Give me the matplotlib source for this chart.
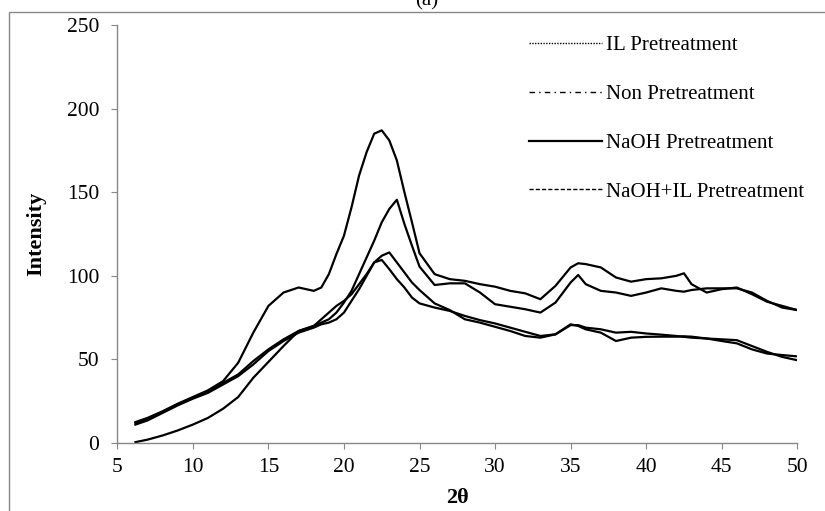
import matplotlib
matplotlib.use("Agg")
from matplotlib import pyplot as plt
from matplotlib.lines import Line2D
from matplotlib.patches import Rectangle

plt.rcParams['font.family'] = ['Liberation Serif', 'DejaVu Serif']

# 2theta sample points
two_theta = [6.2, 7, 8, 9, 10, 11, 12, 13, 14, 15, 16, 17, 18, 18.5, 19, 19.5,
             20, 20.5, 21, 21.5, 22, 22.5, 23, 23.5, 24, 24.5, 25, 26, 27, 28,
             29, 30, 31, 32, 33, 34, 35, 35.5, 36, 37, 38, 39, 40, 41, 42, 42.5,
             43, 44, 45, 46, 47, 48, 49, 50]

naoh = [12.5, 15, 19, 23.5, 27.5, 31.5, 37, 48, 66, 82, 90, 93, 91, 93, 101, 113,
        124, 141, 160, 174, 185, 187, 181, 169, 150, 132, 113.5, 101, 98, 97,
        95, 93.5, 91, 89.5, 86, 94, 105, 107.5, 107, 105, 99, 96.5, 98, 98.5, 100, 101.5,
        95, 90, 92, 93, 89, 84.5, 82, 79.5]

naoh_il = [0.5, 2, 4.5, 7.5, 11, 15, 20.5, 27.5, 39, 48.5, 58, 67, 70, 72, 74, 78,
           84, 91, 101, 111, 121, 132, 140, 145.5, 131, 118, 105.5, 94.5, 95.5, 95.5,
           90, 83, 81.5, 80, 78, 84, 96, 100.5, 95, 91, 90, 88, 90, 92.5, 91, 90.5,
           91.5, 92.5, 92.5, 92.5, 90, 85, 81, 79.5]

non_pre = [12, 14.5, 18.5, 23, 27, 31, 36, 41, 49, 56, 62, 67, 70, 74, 78, 82,
           85, 89, 95, 101, 108, 112, 114, 108, 102, 96, 91.5, 83.5, 79.5, 74,
           72, 69.5, 67, 64, 63, 65, 70.5, 70.5, 69, 68, 66, 66.5, 65.5, 64.8, 64, 63.5,
           63, 62.5, 62, 61.5, 58, 54.5, 51.5, 49.5]

il_pre = [11, 13.5, 18, 22.5, 26.5, 30, 35, 40, 47, 55, 61, 66, 69, 71, 72, 74,
          78, 85, 92, 100, 108, 109.5, 104, 98, 93, 87, 83.5, 81, 79, 76,
          73.5, 71.5, 69, 66.5, 64, 65, 71, 70, 68, 66, 61, 63, 63.5, 63.6, 63.6, 63.8,
          63.6, 62.5, 61, 59.6, 56, 53.5, 52.6, 51.8]

legend_labels = ['IL Pretreatment', 'Non Pretreatment', 'NaOH Pretreatment', 'NaOH+IL Pretreatment']

fig = plt.figure(figsize=(8.25, 5.11), dpi=100)
ax = fig.add_axes([0.1422, 0.1331, 0.8242, 0.8179])

for ys in [il_pre, non_pre, naoh, naoh_il]:
    ax.plot(two_theta, ys, color='black', lw=1.6)

ax.set_xlim(5, 50)
ax.set_ylim(0, 250)
ax.set_xticks(range(5, 51, 5))
ax.set_yticks(range(0, 251, 50))
for s in ['top', 'right']:
    ax.spines[s].set_visible(False)
for s in ['left', 'bottom']:
    ax.spines[s].set_color('#878787')
    ax.spines[s].set_linewidth(1.0)
ax.tick_params(direction='out', length=4, color='#878787', labelsize=15.5)
ax.tick_params(axis='y', pad=9)
ax.tick_params(axis='x', pad=7)
ax.set_ylabel('Intensity', fontsize=16, fontweight='bold', labelpad=15)
ax.set_xlabel('2θ', fontsize=16, fontweight='bold', labelpad=8)

handles = [Line2D([], [], color='black', lw=1.0, ls=(0, (1, 1))),
           Line2D([], [], color='black', lw=1.0, ls=(0, (4, 3, 1, 3))),
           Line2D([], [], color='black', lw=1.6, ls='-'),
           Line2D([], [], color='black', lw=1.0, ls=(0, (3, 1.5)))]
fig.legend(handles, legend_labels, loc='upper left', bbox_to_anchor=(0.641, 0.93),
           frameon=False, fontsize=15, handlelength=3.5, handletextpad=0.2,
           labelspacing=1.4, borderpad=0, borderaxespad=0)

fig.text(0.517, 0.99, '(a)', ha='center', va='baseline', fontsize=15)
fig.patches.append(Rectangle((9 / 825, -0.05), 1.0, 1 - 12 / 511 + 0.05,
                             transform=fig.transFigure, fill=False,
                             edgecolor='#888888', lw=1.0))

fig.savefig('out.png', dpi=100)
